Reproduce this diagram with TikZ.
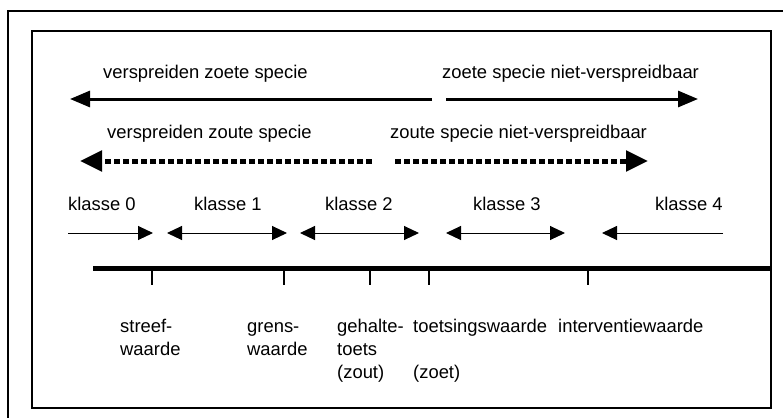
\documentclass[tikz,border=0pt]{standalone}
\usepackage{fontspec}
\setmainfont{Liberation Sans}
\usetikzlibrary{arrows.meta}
\begin{document}
\begin{tikzpicture}[x=1pt,y=-1pt,
  lbl/.style={anchor=base west,inner sep=0pt,font=\fontsize{18.4}{22}\selectfont},
  bigarrow/.style={line width=3pt,-{Triangle[length=20pt,width=16pt]}},
  dasharrow/.style={line width=5pt,dash pattern=on 6pt off 3pt,-{Triangle[length=22pt,width=20pt]}},
  smallarrow/.style={line width=1pt,-{Triangle[length=15pt,width=14pt]}},
  smallboth/.style={line width=1pt,{Triangle[length=15pt,width=14pt]}-{Triangle[length=15pt,width=14pt]}},
  tickline/.style={line width=2pt}]
\useasboundingbox (0,0) rectangle (783,418);
% frames
\draw[line width=1.5pt] (783,11) -- (8,11) -- (8,418);
\draw[line width=2.5pt] (32,31) rectangle (771,408);
% top labels
\node[lbl] (vzoet) at (103,78) {verspreiden zoete specie};
\node[lbl] (nzoet) at (442,78) {zoete specie niet-verspreidbaar};
\node[lbl] (vzout) at (107,138) {verspreiden zoute specie};
\node[lbl] (nzout) at (390,138) {zoute specie niet-verspreidbaar};
% solid arrows
\coordinate (s1a) at (432,99); \coordinate (s1b) at (70,99);
\coordinate (s2a) at (446,99); \coordinate (s2b) at (698,99);
\draw[bigarrow] (s1a) -- (s1b);
\draw[bigarrow] (s2a) -- (s2b);
% dashed arrows
\coordinate (d1a) at (372,161); \coordinate (d1b) at (80,161);
\coordinate (d2a) at (395,161); \coordinate (d2b) at (648,161);
\draw[dasharrow] (d1a) -- (d1b);
\draw[dasharrow] (d2a) -- (d2b);
% klasse labels
\node[lbl] (k0) at (68,210) {klasse 0};
\node[lbl] (k1) at (194,210) {klasse 1};
\node[lbl] (k2) at (325,210) {klasse 2};
\node[lbl] (k3) at (473,210) {klasse 3};
\node[lbl] (k4) at (655,210) {klasse 4};
% small arrows
\coordinate (a0a) at (68,233); \coordinate (a0b) at (153,233);
\coordinate (a1a) at (167,233); \coordinate (a1b) at (287,233);
\coordinate (a2a) at (300,233); \coordinate (a2b) at (419,233);
\coordinate (a3a) at (446,233); \coordinate (a3b) at (565,233);
\coordinate (a4a) at (723,233); \coordinate (a4b) at (602,233);
\draw[smallarrow] (a0a) -- (a0b);
\draw[smallboth] (a1a) -- (a1b);
\draw[smallboth] (a2a) -- (a2b);
\draw[smallboth] (a3a) -- (a3b);
\draw[smallarrow] (a4a) -- (a4b);
% axis
\coordinate (axl) at (93,268); \coordinate (axr) at (771,268);
\draw[line width=5pt] (axl) -- (axr);
\coordinate (t1) at (152,268); \coordinate (t2) at (284,268);
\coordinate (t3) at (370,268); \coordinate (t4) at (429,268);
\coordinate (t5) at (588,268);
\foreach \t in {t1,t2,t3,t4,t5} \draw[tickline] (\t) -- ++(0,17);
% bottom labels
\node[lbl] (sw1) at (120,332) {streef-};
\node[lbl] (sw2) at (120,355) {waarde};
\node[lbl] (gw1) at (247,332) {grens-};
\node[lbl] (gw2) at (247,355) {waarde};
\node[lbl] (gt1) at (337,332) {gehalte-};
\node[lbl] (gt2) at (337,355) {toets};
\node[lbl] (gt3) at (337,378) {(zout)};
\node[lbl] (tw1) at (413,332) {toetsingswaarde};
\node[lbl] (tw2) at (413,378) {(zoet)};
\node[lbl] (iw1) at (558,332) {interventiewaarde};
\end{tikzpicture}
\end{document}
